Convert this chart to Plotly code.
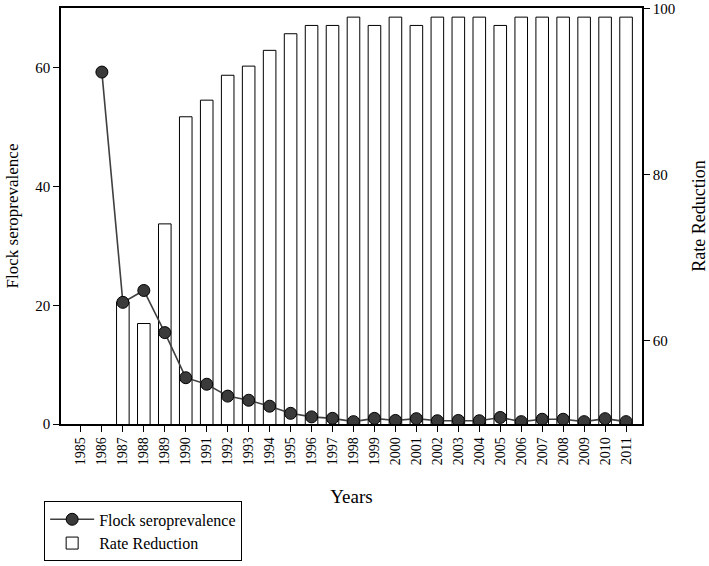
import plotly.graph_objects as go

years = list(range(1985, 2012))
year_labels = [str(y) for y in years]

# flock seroprevalence (left axis), none for 1985
seroprevalence = [None, 59.3, 20.5, 22.5, 15.4, 7.8, 6.7, 4.7, 4.0, 3.0, 1.8, 1.2, 0.95, 0.4,
                  0.95, 0.6, 0.9, 0.55, 0.6, 0.55, 1.1, 0.4, 0.8, 0.8, 0.4, 0.9, 0.4]

# rate reduction (right axis), none for 1985 and 1986
rate_reduction = [None, None, 64.7, 62.1, 74.1, 87.0, 89.0, 92.0, 93.1, 95.0, 97.0, 98.0, 98.0, 99.0,
                  98.0, 99.0, 98.0, 99.0, 99.0, 99.0, 98.0, 99.0, 99.0, 99.0, 99.0, 99.0, 99.0]

font = "Liberation Serif"

fig = go.Figure()

# line goes on the overlaying axis so it is drawn above the bars
fig.add_trace(go.Scatter(
    x=years, y=seroprevalence, name="Flock seroprevalence",
    mode="lines+markers", yaxis="y2",
    line=dict(color="#404040", width=1.6),
    marker=dict(size=12, color="#3a3a3a", line=dict(color="black", width=1)),
))
fig.add_trace(go.Bar(
    x=years, y=rate_reduction, name="Rate Reduction", width=0.6,
    marker=dict(color="white", line=dict(color="black", width=1)),
))

fig.update_layout(
    width=709, height=566,
    margin=dict(l=61, r=67, t=8, b=142, autoexpand=False),
    plot_bgcolor="white", paper_bgcolor="white",
    font=dict(family=font, size=15, color="black"),
    showlegend=True,
    legend=dict(x=-0.029, y=-0.186, xanchor="left", yanchor="top",
                bordercolor="black", borderwidth=1, font=dict(size=16),
                tracegroupgap=0, itemwidth=44),
    xaxis=dict(
        range=[1984.05, 2011.76], tickvals=years, ticktext=year_labels,
        tickangle=-90, ticks="outside", ticklen=6, tickcolor="black",
        showline=True, linecolor="black", linewidth=1.5, mirror=True,
        showgrid=False, zeroline=False, tickfont=dict(size=14), automargin=False,
        title=dict(text="Years", font=dict(size=19), standoff=25),
    ),
    yaxis=dict(
        side="right", range=[50, 100.1], tickvals=[60, 80, 100],
        ticks="outside", ticklen=6, tickcolor="black", ticklabeloverflow="allow",
        showline=True, linecolor="black", linewidth=1.5, automargin=False,
        showgrid=False, zeroline=False,
        title=dict(text="Rate Reduction", font=dict(size=18), standoff=30),
    ),
    yaxis2=dict(
        side="left", overlaying="y", range=[0, 70.1], tickvals=[0, 20, 40, 60],
        ticks="outside", ticklen=6, tickcolor="black", ticklabeloverflow="allow",
        showline=True, linecolor="black", linewidth=1.5, automargin=False,
        showgrid=False, zeroline=False,
        title=dict(text="Flock seroprevalence", font=dict(size=17), standoff=12),
    ),
)

# page body has a default 8px margin, drop it so the figure sits at the corner
fig.write_html("out.html", config={"displayModeBar": False},
               post_script="document.body.style.margin='0';")
